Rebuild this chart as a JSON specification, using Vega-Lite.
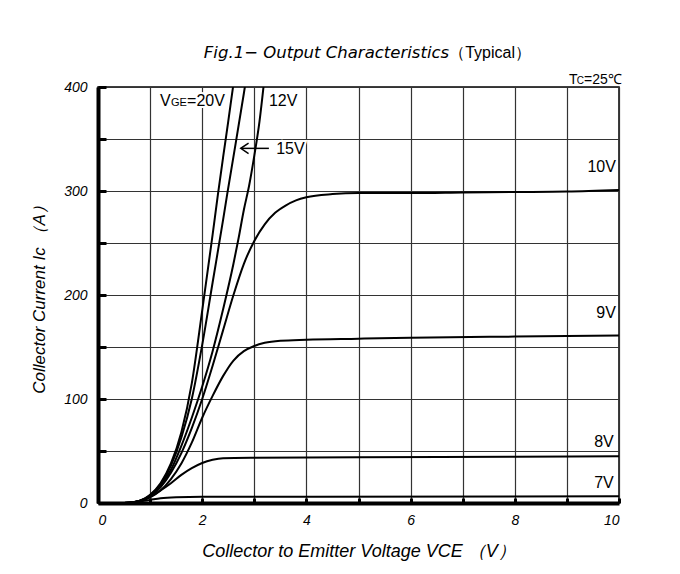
{
  "$schema": "https://vega.github.io/schema/vega-lite/v6.json",
  "autosize": {"type": "none"},
  "width": 521,
  "height": 416,
  "padding": {"left": 98, "top": 87, "right": 61, "bottom": 71},
  "background": "white",
  "config": {
    "view": {"stroke": "black", "strokeWidth": 1.5},
    "font": "Liberation Sans"
  },
  "datasets": {
    "curves": [
      {"s":"20V","v":0,"i":0},{"s":"20V","v":0.5,"i":0},{"s":"20V","v":0.7,"i":1},{"s":"20V","v":0.9,"i":4.5},{"s":"20V","v":1.0,"i":8},{"s":"20V","v":1.2,"i":19},{"s":"20V","v":1.4,"i":38},{"s":"20V","v":1.6,"i":68},{"s":"20V","v":1.8,"i":115},{"s":"20V","v":2.0,"i":185},{"s":"20V","v":2.2,"i":258},{"s":"20V","v":2.3,"i":296},{"s":"20V","v":2.4,"i":332},{"s":"20V","v":2.5,"i":367},{"s":"20V","v":2.6,"i":403},{"s":"20V","v":2.65,"i":420},
      {"s":"15V","v":0,"i":0},{"s":"15V","v":0.5,"i":0},{"s":"15V","v":0.7,"i":1},{"s":"15V","v":0.9,"i":4.3},{"s":"15V","v":1.0,"i":7.5},{"s":"15V","v":1.2,"i":18},{"s":"15V","v":1.4,"i":36},{"s":"15V","v":1.6,"i":63},{"s":"15V","v":1.8,"i":100},{"s":"15V","v":2.0,"i":152},{"s":"15V","v":2.2,"i":212},{"s":"15V","v":2.4,"i":272},{"s":"15V","v":2.48,"i":297},{"s":"15V","v":2.6,"i":333},{"s":"15V","v":2.8,"i":394},{"s":"15V","v":2.85,"i":410},
      {"s":"12V","v":0,"i":0},{"s":"12V","v":0.5,"i":0},{"s":"12V","v":0.7,"i":0.9},{"s":"12V","v":0.9,"i":4},{"s":"12V","v":1.0,"i":7},{"s":"12V","v":1.2,"i":17},{"s":"12V","v":1.4,"i":32},{"s":"12V","v":1.6,"i":55},{"s":"12V","v":1.8,"i":82},{"s":"12V","v":2.0,"i":112},{"s":"12V","v":2.2,"i":146},{"s":"12V","v":2.4,"i":186},{"s":"12V","v":2.6,"i":230},{"s":"12V","v":2.7,"i":255},{"s":"12V","v":2.8,"i":282},{"s":"12V","v":2.9,"i":305},{"s":"12V","v":3.0,"i":334},{"s":"12V","v":3.1,"i":367},{"s":"12V","v":3.2,"i":411},
      {"s":"10V","v":0,"i":0},{"s":"10V","v":0.5,"i":0},{"s":"10V","v":0.7,"i":0.8},{"s":"10V","v":0.9,"i":3.6},{"s":"10V","v":1.0,"i":6.5},{"s":"10V","v":1.2,"i":15},{"s":"10V","v":1.4,"i":29},{"s":"10V","v":1.6,"i":48},{"s":"10V","v":1.8,"i":72},{"s":"10V","v":2.0,"i":100},{"s":"10V","v":2.2,"i":132},{"s":"10V","v":2.4,"i":166},{"s":"10V","v":2.6,"i":200},{"s":"10V","v":2.8,"i":230},{"s":"10V","v":3.0,"i":252},{"s":"10V","v":3.2,"i":268},{"s":"10V","v":3.4,"i":279},{"s":"10V","v":3.6,"i":286},{"s":"10V","v":3.8,"i":291},{"s":"10V","v":4.0,"i":294},{"s":"10V","v":4.5,"i":297},{"s":"10V","v":5,"i":298},{"s":"10V","v":6,"i":298},{"s":"10V","v":7,"i":298.5},{"s":"10V","v":8,"i":299},{"s":"10V","v":9,"i":299.5},{"s":"10V","v":10,"i":301},
      {"s":"9V","v":0,"i":0},{"s":"9V","v":0.5,"i":0},{"s":"9V","v":0.7,"i":0.7},{"s":"9V","v":0.9,"i":3.2},{"s":"9V","v":1.0,"i":5.5},{"s":"9V","v":1.2,"i":12},{"s":"9V","v":1.4,"i":23},{"s":"9V","v":1.6,"i":38},{"s":"9V","v":1.8,"i":58},{"s":"9V","v":2.0,"i":82},{"s":"9V","v":2.2,"i":103},{"s":"9V","v":2.4,"i":122},{"s":"9V","v":2.6,"i":137},{"s":"9V","v":2.8,"i":146},{"s":"9V","v":3.0,"i":151},{"s":"9V","v":3.2,"i":154},{"s":"9V","v":3.5,"i":156},{"s":"9V","v":4,"i":157},{"s":"9V","v":5,"i":158},{"s":"9V","v":6,"i":159},{"s":"9V","v":8,"i":160},{"s":"9V","v":10,"i":161},
      {"s":"8V","v":0,"i":0},{"s":"8V","v":0.5,"i":0},{"s":"8V","v":0.7,"i":0.7},{"s":"8V","v":0.9,"i":3.5},{"s":"8V","v":1.0,"i":6},{"s":"8V","v":1.2,"i":12},{"s":"8V","v":1.4,"i":19},{"s":"8V","v":1.6,"i":27},{"s":"8V","v":1.8,"i":33.5},{"s":"8V","v":2.0,"i":38.5},{"s":"8V","v":2.2,"i":41.5},{"s":"8V","v":2.4,"i":43},{"s":"8V","v":3,"i":43.5},{"s":"8V","v":5,"i":44},{"s":"8V","v":8,"i":44.5},{"s":"8V","v":10,"i":45},
      {"s":"7V","v":0,"i":0},{"s":"7V","v":0.5,"i":0},{"s":"7V","v":0.8,"i":1.5},{"s":"7V","v":1.0,"i":3},{"s":"7V","v":1.2,"i":4.5},{"s":"7V","v":1.5,"i":5.5},{"s":"7V","v":2,"i":6},{"s":"7V","v":4,"i":6},{"s":"7V","v":10,"i":6.5}
    ],
    "arrow": [
      {"seg":"shaft","k":0,"v":2.76,"i":341},{"seg":"shaft","k":1,"v":3.28,"i":341},
      {"seg":"head","k":0,"v":2.89,"i":346},{"seg":"head","k":1,"v":2.74,"i":341},{"seg":"head","k":2,"v":2.89,"i":336}
    ],
    "rightLabels": [
      {"t":"10V","v":9.94,"i":323},
      {"t":"9V","v":9.94,"i":183},
      {"t":"8V","v":9.9,"i":59},
      {"t":"7V","v":9.9,"i":19}
    ],
    "leftLabels": [
      {"t":"12V","v":3.28,"i":387},
      {"t":"15V","v":3.42,"i":340},
      {"t":"V","v":1.19,"i":387},
      {"t":"=20V","v":1.71,"i":387}
    ],
    "subLabels": [
      {"t":"GE","v":1.4,"i":385}
    ],
    "tempLabels": [
      {"t":"T","v":9.04,"i":407},
      {"t":"=25℃","v":9.33,"i":407}
    ],
    "tempSub": [
      {"t":"C","v":9.19,"i":405.5}
    ],
    "titleItalic": [{"t":"Fig.1− Output Characteristics","v":6.74,"i":433}],
    "titleUpright": [{"t":"（Typical）","v":6.74,"i":433}]
  },
  "layer": [
    {
      "data": {"name": "curves"},
      "mark": {"type": "line", "color": "black", "strokeWidth": 2, "interpolate": "monotone", "clip": true},
      "encoding": {
        "x": {
          "field": "v", "type": "quantitative",
          "scale": {"domain": [0, 10], "nice": false},
          "axis": {
            "values": [0,1,2,3,4,5,6,7,8,9,10],
            "labelExpr": "datum.value % 2 === 0 ? datum.label : ''",
            "grid": true, "gridColor": "#333", "gridWidth": 1.2,
            "domainColor": "black", "domainWidth": 4,
            "tickColor": "black", "tickSize": -5, "tickWidth": 3,
            "labelFont": "Liberation Sans", "labelFontStyle": "italic", "labelFontSize": 14, "labelColor": "black",
            "labelPadding": 15,
            "title": "Collector to Emitter Voltage VCE （V）",
            "titleFont": "Liberation Sans", "titleFontStyle": "italic", "titleFontWeight": "normal", "titleFontSize": 18, "titleColor": "black",
            "titlePadding": 15
          }
        },
        "y": {
          "field": "i", "type": "quantitative",
          "scale": {"domain": [0, 400], "nice": false},
          "axis": {
            "values": [0,50,100,150,200,250,300,350,400],
            "labelExpr": "datum.value % 100 === 0 ? datum.label : ''",
            "grid": true, "gridColor": "#333", "gridWidth": 1.2,
            "domainColor": "black", "domainWidth": 4,
            "tickColor": "black", "tickSize": -8, "tickWidth": 3,
            "labelFont": "Liberation Sans", "labelFontStyle": "italic", "labelFontSize": 14, "labelColor": "black",
            "labelPadding": 19,
            "title": "Collector Current Ic （A）",
            "titleFont": "Liberation Sans", "titleFontStyle": "italic", "titleFontWeight": "normal", "titleFontSize": 17, "titleColor": "black",
            "titlePadding": 15
          }
        },
        "detail": {"field": "s"}
      }
    },
    {
      "data": {"name": "arrow"},
      "mark": {"type": "line", "color": "black", "strokeWidth": 1.5},
      "encoding": {
        "x": {"field": "v", "type": "quantitative"},
        "y": {"field": "i", "type": "quantitative"},
        "detail": {"field": "seg"},
        "order": {"field": "k"}
      }
    },
    {
      "data": {"name": "leftLabels"},
      "mark": {"type": "text", "align": "left", "baseline": "middle", "fontSize": 16, "font": "Liberation Sans", "color": "white", "stroke": "white", "strokeWidth": 4},
      "encoding": {
        "x": {"field": "v", "type": "quantitative"},
        "y": {"field": "i", "type": "quantitative"},
        "text": {"field": "t"}
      }
    },
    {
      "data": {"name": "rightLabels"},
      "mark": {"type": "text", "align": "right", "baseline": "middle", "fontSize": 16, "font": "Liberation Sans", "color": "black"},
      "encoding": {
        "x": {"field": "v", "type": "quantitative"},
        "y": {"field": "i", "type": "quantitative"},
        "text": {"field": "t"}
      }
    },
    {
      "data": {"name": "leftLabels"},
      "mark": {"type": "text", "align": "left", "baseline": "middle", "fontSize": 16, "font": "Liberation Sans", "color": "black"},
      "encoding": {
        "x": {"field": "v", "type": "quantitative"},
        "y": {"field": "i", "type": "quantitative"},
        "text": {"field": "t"}
      }
    },
    {
      "data": {"name": "subLabels"},
      "mark": {"type": "text", "align": "left", "baseline": "middle", "fontSize": 11, "font": "Liberation Sans", "color": "black"},
      "encoding": {
        "x": {"field": "v", "type": "quantitative"},
        "y": {"field": "i", "type": "quantitative"},
        "text": {"field": "t"}
      }
    },
    {
      "data": {"name": "tempLabels"},
      "mark": {"type": "text", "align": "left", "baseline": "middle", "fontSize": 14, "font": "Liberation Sans", "color": "black"},
      "encoding": {
        "x": {"field": "v", "type": "quantitative"},
        "y": {"field": "i", "type": "quantitative"},
        "text": {"field": "t"}
      }
    },
    {
      "data": {"name": "tempSub"},
      "mark": {"type": "text", "align": "left", "baseline": "middle", "fontSize": 10, "font": "Liberation Sans", "color": "black"},
      "encoding": {
        "x": {"field": "v", "type": "quantitative"},
        "y": {"field": "i", "type": "quantitative"},
        "text": {"field": "t"}
      }
    },
    {
      "data": {"name": "titleItalic"},
      "mark": {"type": "text", "align": "right", "baseline": "middle", "fontSize": 16.5, "font": "DejaVu Sans", "fontStyle": "italic", "color": "black"},
      "encoding": {
        "x": {"field": "v", "type": "quantitative"},
        "y": {"field": "i", "type": "quantitative"},
        "text": {"field": "t"}
      }
    },
    {
      "data": {"name": "titleUpright"},
      "mark": {"type": "text", "align": "left", "baseline": "middle", "fontSize": 16, "font": "Liberation Sans", "color": "black"},
      "encoding": {
        "x": {"field": "v", "type": "quantitative"},
        "y": {"field": "i", "type": "quantitative"},
        "text": {"field": "t"}
      }
    }
  ]
}
